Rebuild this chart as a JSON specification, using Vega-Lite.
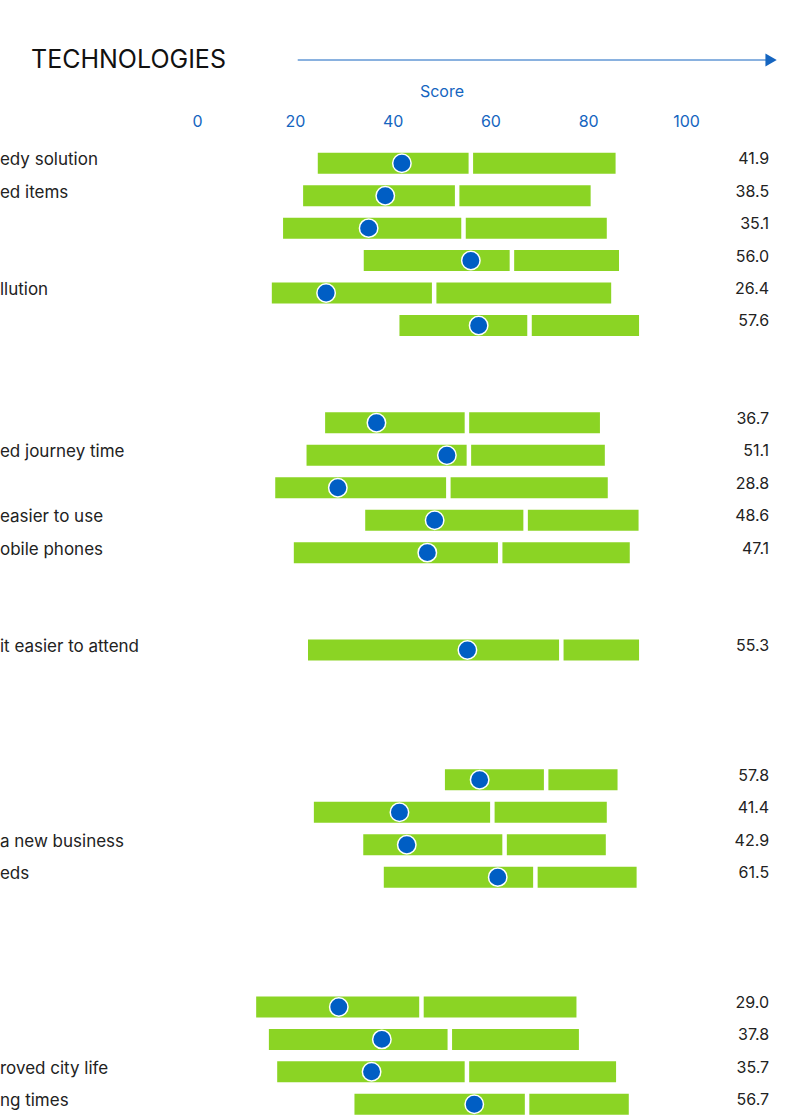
{
  "$schema": "https://vega.github.io/schema/vega-lite/v6.json",
  "width": 489,
  "height": 969,
  "autosize": "none",
  "padding": {"left": 197, "top": 147, "right": 125, "bottom": 0},
  "background": "white",
  "config": {
    "view": {"stroke": null},
    "font": "Inter",
    "title": {"font": "Inter"},
    "axis": {"labelFont": "Inter", "titleFont": "Inter"}
  },
  "title": {
    "text": "TECHNOLOGIES",
    "anchor": "start",
    "frame": "group",
    "dx": -166,
    "dy": 50,
    "fontSize": 25,
    "fontWeight": "normal",
    "color": "#111111",
    "offset": 30
  },
  "datasets": {
    "rows": [
      {"id": "T1", "label": "edy solution", "low": 24.7, "mid": 56.0, "high": 85.6, "score": 41.9},
      {"id": "T2", "label": "ed items", "low": 21.7, "mid": 53.2, "high": 80.5, "score": 38.5},
      {"id": "T3", "label": "", "low": 17.6, "mid": 54.5, "high": 83.8, "score": 35.1},
      {"id": "T4", "label": "", "low": 34.1, "mid": 64.4, "high": 86.3, "score": 56.0},
      {"id": "T5", "label": "llution", "low": 15.3, "mid": 48.5, "high": 84.7, "score": 26.4},
      {"id": "T6", "label": "", "low": 41.4, "mid": 68.0, "high": 90.4, "score": 57.6},
      {"id": "M1", "label": "", "low": 26.2, "mid": 55.2, "high": 82.4, "score": 36.7},
      {"id": "M2", "label": "ed journey time", "low": 22.4, "mid": 55.6, "high": 83.4, "score": 51.1},
      {"id": "M3", "label": "", "low": 16.0, "mid": 51.4, "high": 84.0, "score": 28.8},
      {"id": "M4", "label": "easier to use", "low": 34.4, "mid": 67.2, "high": 90.3, "score": 48.6},
      {"id": "M5", "label": "obile phones", "low": 19.8, "mid": 62.0, "high": 88.5, "score": 47.1},
      {"id": "A1", "label": "it easier to attend", "low": 22.7, "mid": 74.5, "high": 90.4, "score": 55.3},
      {"id": "O1", "label": "", "low": 50.7, "mid": 71.4, "high": 86.0, "score": 57.8},
      {"id": "O2", "label": "", "low": 23.9, "mid": 60.4, "high": 83.8, "score": 41.4},
      {"id": "O3", "label": "a new business", "low": 34.0, "mid": 62.9, "high": 83.6, "score": 42.9},
      {"id": "O4", "label": "eds", "low": 38.2, "mid": 69.2, "high": 89.9, "score": 61.5},
      {"id": "V1", "label": "", "low": 12.1, "mid": 45.9, "high": 77.6, "score": 29.0},
      {"id": "V2", "label": "", "low": 14.7, "mid": 51.7, "high": 78.1, "score": 37.8},
      {"id": "V3", "label": "roved city life", "low": 16.4, "mid": 55.2, "high": 85.7, "score": 35.7},
      {"id": "V4", "label": "ng times", "low": 32.2, "mid": 67.5, "high": 88.3, "score": 56.7}
    ]
  },
  "data": {"name": "rows"},
  "encoding": {
    "y": {
      "field": "id",
      "type": "nominal",
      "axis": null,
      "scale": {
        "domain": ["T1", "T2", "T3", "T4", "T5", "T6", "g1a", "g1b", "M1", "M2", "M3", "M4", "M5", "g2a", "g2b", "A1", "g3a", "g3b", "g3c", "O1", "O2", "O3", "O4", "g4a", "g4b", "g4c", "V1", "V2", "V3", "V4"],
        "range": [0, 973.5],
        "paddingInner": 0,
        "paddingOuter": 0
      }
    }
  },
  "layer": [
    {
      "mark": {"type": "bar", "color": "#8BD424", "height": 21},
      "encoding": {
        "x": {
          "field": "low",
          "type": "quantitative",
          "scale": {"domain": [0, 100], "nice": false, "zero": false},
          "axis": {
            "orient": "top",
            "values": [0, 20, 40, 60, 80, 100],
            "title": "Score",
            "titleColor": "#1565C0",
            "titleFontSize": 16,
            "titleFontWeight": "normal",
            "titlePadding": 14,
            "labelColor": "#1565C0",
            "labelFontSize": 16,
            "labelPadding": 18,
            "labelFlush": false,
            "ticks": false,
            "tickSize": 0,
            "domain": false,
            "grid": false
          }
        },
        "x2": {"field": "high"}
      }
    },
    {
      "mark": {"type": "tick", "color": "white", "thickness": 4.5, "size": 23, "orient": "vertical", "opacity": 1},
      "encoding": {"x": {"field": "mid", "type": "quantitative"}}
    },
    {
      "mark": {"type": "point", "filled": true, "color": "#005EC4", "size": 340, "stroke": "white", "strokeWidth": 1.5, "opacity": 1},
      "encoding": {"x": {"field": "score", "type": "quantitative"}}
    },
    {
      "mark": {"type": "text", "align": "left", "baseline": "middle", "fontSize": 17, "color": "#222222", "dy": -3},
      "encoding": {"x": {"datum": -40.3}, "text": {"field": "label"}}
    },
    {
      "mark": {"type": "text", "align": "right", "baseline": "middle", "fontSize": 16, "color": "#222222", "dy": -4},
      "encoding": {"x": {"datum": 117}, "text": {"field": "score", "type": "quantitative", "format": ".1f"}}
    },
    {
      "data": {"values": [{}]},
      "mark": {"type": "rule", "color": "#1565C0", "strokeWidth": 1},
      "encoding": {"x": {"datum": 20.6}, "x2": {"datum": 116.5}, "y": {"value": -87}}
    },
    {
      "data": {"values": [{}]},
      "mark": {"type": "point", "shape": "triangle-right", "filled": true, "color": "#1565C0", "size": 170, "opacity": 1},
      "encoding": {"x": {"datum": 117.4}, "y": {"value": -87}}
    }
  ]
}
